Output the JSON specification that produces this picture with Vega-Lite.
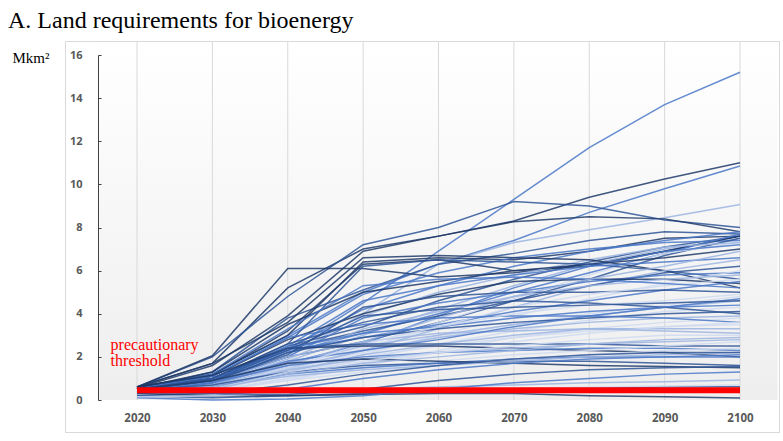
{
  "$schema": "https://vega.github.io/schema/vega-lite/v6.json",
  "width": 714,
  "height": 391,
  "autosize": "none",
  "padding": {"left": 65, "top": 41, "right": 4, "bottom": 9},
  "background": "#ffffff",
  "config": {
    "view": {"stroke": "#d9d9d9", "strokeWidth": 1, "fill": "#ffffff"}
  },
  "title": {
    "text": "A. Land requirements for bioenergy",
    "anchor": "start",
    "frame": "group",
    "font": "Liberation Serif",
    "fontSize": 24,
    "fontWeight": "normal",
    "color": "#000000",
    "baseline": "alphabetic",
    "dx": -57,
    "dy": 25,
    "offset": 14
  },
  "datasets": {
    "runs": [
      {"s":1,"g":"m","t":2020,"v":0.5},{"s":1,"g":"m","t":2030,"v":1.0},{"s":1,"g":"m","t":2040,"v":2.3},{"s":1,"g":"m","t":2050,"v":4.5},{"s":1,"g":"m","t":2060,"v":6.9},{"s":1,"g":"m","t":2070,"v":9.3},{"s":1,"g":"m","t":2080,"v":11.7},{"s":1,"g":"m","t":2090,"v":13.7},{"s":1,"g":"m","t":2100,"v":15.2},
      {"s":2,"g":"n","t":2020,"v":0.6},{"s":2,"g":"n","t":2030,"v":1.7},{"s":2,"g":"n","t":2040,"v":5.2},{"s":2,"g":"n","t":2050,"v":7.0},{"s":2,"g":"n","t":2060,"v":7.6},{"s":2,"g":"n","t":2070,"v":8.3},{"s":2,"g":"n","t":2080,"v":9.4},{"s":2,"g":"n","t":2090,"v":10.25},{"s":2,"g":"n","t":2100,"v":11.0},
      {"s":3,"g":"m","t":2020,"v":0.5},{"s":3,"g":"m","t":2030,"v":1.2},{"s":3,"g":"m","t":2040,"v":3.0},{"s":3,"g":"m","t":2050,"v":5.0},{"s":3,"g":"m","t":2060,"v":6.3},{"s":3,"g":"m","t":2070,"v":7.4},{"s":3,"g":"m","t":2080,"v":8.7},{"s":3,"g":"m","t":2090,"v":9.8},{"s":3,"g":"m","t":2100,"v":10.85},
      {"s":4,"g":"d","t":2020,"v":0.6},{"s":4,"g":"d","t":2030,"v":2.0},{"s":4,"g":"d","t":2040,"v":4.8},{"s":4,"g":"d","t":2050,"v":7.2},{"s":4,"g":"d","t":2060,"v":8.0},{"s":4,"g":"d","t":2070,"v":9.2},{"s":4,"g":"d","t":2080,"v":9.0},{"s":4,"g":"d","t":2090,"v":8.35},{"s":4,"g":"d","t":2100,"v":8.0},
      {"s":5,"g":"l","t":2020,"v":0.4},{"s":5,"g":"l","t":2030,"v":0.9},{"s":5,"g":"l","t":2040,"v":2.0},{"s":5,"g":"l","t":2050,"v":4.0},{"s":5,"g":"l","t":2060,"v":6.3},{"s":5,"g":"l","t":2070,"v":7.3},{"s":5,"g":"l","t":2080,"v":7.9},{"s":5,"g":"l","t":2090,"v":8.45},{"s":5,"g":"l","t":2100,"v":9.07},
      {"s":6,"g":"n","t":2020,"v":0.6},{"s":6,"g":"n","t":2030,"v":2.05},{"s":6,"g":"n","t":2040,"v":6.1},{"s":6,"g":"n","t":2050,"v":6.1},{"s":6,"g":"n","t":2060,"v":5.7},{"s":6,"g":"n","t":2070,"v":5.9},{"s":6,"g":"n","t":2080,"v":6.3},{"s":6,"g":"n","t":2090,"v":6.9},{"s":6,"g":"n","t":2100,"v":7.6},
      {"s":7,"g":"n","t":2020,"v":0.55},{"s":7,"g":"n","t":2030,"v":1.6},{"s":7,"g":"n","t":2040,"v":3.9},{"s":7,"g":"n","t":2050,"v":6.9},{"s":7,"g":"n","t":2060,"v":7.6},{"s":7,"g":"n","t":2070,"v":8.27},{"s":7,"g":"n","t":2080,"v":8.5},{"s":7,"g":"n","t":2090,"v":8.4},{"s":7,"g":"n","t":2100,"v":7.8},
      {"s":8,"g":"d","t":2020,"v":0.5},{"s":8,"g":"d","t":2030,"v":1.3},{"s":8,"g":"d","t":2040,"v":3.8},{"s":8,"g":"d","t":2050,"v":5.1},{"s":8,"g":"d","t":2060,"v":6.3},{"s":8,"g":"d","t":2070,"v":6.8},{"s":8,"g":"d","t":2080,"v":7.4},{"s":8,"g":"d","t":2090,"v":7.8},{"s":8,"g":"d","t":2100,"v":7.7},
      {"s":9,"g":"n","t":2020,"v":0.6},{"s":9,"g":"n","t":2030,"v":1.2},{"s":9,"g":"n","t":2040,"v":3.0},{"s":9,"g":"n","t":2050,"v":6.4},{"s":9,"g":"n","t":2060,"v":6.6},{"s":9,"g":"n","t":2070,"v":6.5},{"s":9,"g":"n","t":2080,"v":6.9},{"s":9,"g":"n","t":2090,"v":7.5},{"s":9,"g":"n","t":2100,"v":7.6},
      {"s":10,"g":"m","t":2020,"v":0.4},{"s":10,"g":"m","t":2030,"v":0.8},{"s":10,"g":"m","t":2040,"v":2.4},{"s":10,"g":"m","t":2050,"v":4.2},{"s":10,"g":"m","t":2060,"v":5.3},{"s":10,"g":"m","t":2070,"v":6.2},{"s":10,"g":"m","t":2080,"v":6.9},{"s":10,"g":"m","t":2090,"v":7.4},{"s":10,"g":"m","t":2100,"v":7.8},
      {"s":11,"g":"d","t":2020,"v":0.5},{"s":11,"g":"d","t":2030,"v":1.0},{"s":11,"g":"d","t":2040,"v":2.5},{"s":11,"g":"d","t":2050,"v":3.4},{"s":11,"g":"d","t":2060,"v":4.6},{"s":11,"g":"d","t":2070,"v":5.6},{"s":11,"g":"d","t":2080,"v":6.4},{"s":11,"g":"d","t":2090,"v":7.1},{"s":11,"g":"d","t":2100,"v":7.6},
      {"s":12,"g":"l","t":2020,"v":0.3},{"s":12,"g":"l","t":2030,"v":0.7},{"s":12,"g":"l","t":2040,"v":1.8},{"s":12,"g":"l","t":2050,"v":3.0},{"s":12,"g":"l","t":2060,"v":4.2},{"s":12,"g":"l","t":2070,"v":5.3},{"s":12,"g":"l","t":2080,"v":6.3},{"s":12,"g":"l","t":2090,"v":7.0},{"s":12,"g":"l","t":2100,"v":7.5},
      {"s":13,"g":"m","t":2020,"v":0.5},{"s":13,"g":"m","t":2030,"v":1.1},{"s":13,"g":"m","t":2040,"v":2.9},{"s":13,"g":"m","t":2050,"v":4.9},{"s":13,"g":"m","t":2060,"v":5.9},{"s":13,"g":"m","t":2070,"v":6.6},{"s":13,"g":"m","t":2080,"v":7.0},{"s":13,"g":"m","t":2090,"v":7.3},{"s":13,"g":"m","t":2100,"v":7.4},
      {"s":14,"g":"n","t":2020,"v":0.6},{"s":14,"g":"n","t":2030,"v":1.15},{"s":14,"g":"n","t":2040,"v":3.2},{"s":14,"g":"n","t":2050,"v":6.3},{"s":14,"g":"n","t":2060,"v":6.5},{"s":14,"g":"n","t":2070,"v":6.0},{"s":14,"g":"n","t":2080,"v":6.2},{"s":14,"g":"n","t":2090,"v":6.9},{"s":14,"g":"n","t":2100,"v":7.6},
      {"s":15,"g":"m","t":2020,"v":0.4},{"s":15,"g":"m","t":2030,"v":0.9},{"s":15,"g":"m","t":2040,"v":2.2},{"s":15,"g":"m","t":2050,"v":3.1},{"s":15,"g":"m","t":2060,"v":4.0},{"s":15,"g":"m","t":2070,"v":5.0},{"s":15,"g":"m","t":2080,"v":5.9},{"s":15,"g":"m","t":2090,"v":6.8},{"s":15,"g":"m","t":2100,"v":7.7},
      {"s":16,"g":"d","t":2020,"v":0.5},{"s":16,"g":"d","t":2030,"v":0.9},{"s":16,"g":"d","t":2040,"v":2.0},{"s":16,"g":"d","t":2050,"v":2.7},{"s":16,"g":"d","t":2060,"v":3.6},{"s":16,"g":"d","t":2070,"v":4.6},{"s":16,"g":"d","t":2080,"v":5.6},{"s":16,"g":"d","t":2090,"v":6.7},{"s":16,"g":"d","t":2100,"v":7.5},
      {"s":17,"g":"x","t":2020,"v":0.3},{"s":17,"g":"x","t":2030,"v":0.6},{"s":17,"g":"x","t":2040,"v":1.5},{"s":17,"g":"x","t":2050,"v":2.5},{"s":17,"g":"x","t":2060,"v":3.6},{"s":17,"g":"x","t":2070,"v":4.7},{"s":17,"g":"x","t":2080,"v":5.8},{"s":17,"g":"x","t":2090,"v":6.8},{"s":17,"g":"x","t":2100,"v":7.3},
      {"s":18,"g":"l","t":2020,"v":0.4},{"s":18,"g":"l","t":2030,"v":0.8},{"s":18,"g":"l","t":2040,"v":2.3},{"s":18,"g":"l","t":2050,"v":3.9},{"s":18,"g":"l","t":2060,"v":5.0},{"s":18,"g":"l","t":2070,"v":5.8},{"s":18,"g":"l","t":2080,"v":6.5},{"s":18,"g":"l","t":2090,"v":7.1},{"s":18,"g":"l","t":2100,"v":7.3},
      {"s":19,"g":"n","t":2020,"v":0.55},{"s":19,"g":"n","t":2030,"v":1.3},{"s":19,"g":"n","t":2040,"v":3.5},{"s":19,"g":"n","t":2050,"v":5.0},{"s":19,"g":"n","t":2060,"v":5.5},{"s":19,"g":"n","t":2070,"v":6.0},{"s":19,"g":"n","t":2080,"v":6.3},{"s":19,"g":"n","t":2090,"v":6.6},{"s":19,"g":"n","t":2100,"v":7.0},
      {"s":20,"g":"m","t":2020,"v":0.4},{"s":20,"g":"m","t":2030,"v":0.7},{"s":20,"g":"m","t":2040,"v":1.7},{"s":20,"g":"m","t":2050,"v":2.6},{"s":20,"g":"m","t":2060,"v":3.9},{"s":20,"g":"m","t":2070,"v":5.2},{"s":20,"g":"m","t":2080,"v":6.2},{"s":20,"g":"m","t":2090,"v":6.9},{"s":20,"g":"m","t":2100,"v":7.2},
      {"s":21,"g":"d","t":2020,"v":0.5},{"s":21,"g":"d","t":2030,"v":1.0},{"s":21,"g":"d","t":2040,"v":2.6},{"s":21,"g":"d","t":2050,"v":6.2},{"s":21,"g":"d","t":2060,"v":6.5},{"s":21,"g":"d","t":2070,"v":6.4},{"s":21,"g":"d","t":2080,"v":6.3},{"s":21,"g":"d","t":2090,"v":6.0},{"s":21,"g":"d","t":2100,"v":5.6},
      {"s":22,"g":"n","t":2020,"v":0.6},{"s":22,"g":"n","t":2030,"v":1.7},{"s":22,"g":"n","t":2040,"v":3.6},{"s":22,"g":"n","t":2050,"v":6.6},{"s":22,"g":"n","t":2060,"v":6.7},{"s":22,"g":"n","t":2070,"v":6.6},{"s":22,"g":"n","t":2080,"v":6.5},{"s":22,"g":"n","t":2090,"v":6.0},{"s":22,"g":"n","t":2100,"v":5.2},
      {"s":23,"g":"m","t":2020,"v":0.4},{"s":23,"g":"m","t":2030,"v":0.9},{"s":23,"g":"m","t":2040,"v":2.5},{"s":23,"g":"m","t":2050,"v":4.6},{"s":23,"g":"m","t":2060,"v":5.3},{"s":23,"g":"m","t":2070,"v":5.8},{"s":23,"g":"m","t":2080,"v":6.2},{"s":23,"g":"m","t":2090,"v":6.4},{"s":23,"g":"m","t":2100,"v":6.6},
      {"s":24,"g":"l","t":2020,"v":0.3},{"s":24,"g":"l","t":2030,"v":0.6},{"s":24,"g":"l","t":2040,"v":1.4},{"s":24,"g":"l","t":2050,"v":2.3},{"s":24,"g":"l","t":2060,"v":3.3},{"s":24,"g":"l","t":2070,"v":4.3},{"s":24,"g":"l","t":2080,"v":5.3},{"s":24,"g":"l","t":2090,"v":6.0},{"s":24,"g":"l","t":2100,"v":6.5},
      {"s":25,"g":"d","t":2020,"v":0.5},{"s":25,"g":"d","t":2030,"v":1.0},{"s":25,"g":"d","t":2040,"v":2.4},{"s":25,"g":"d","t":2050,"v":3.2},{"s":25,"g":"d","t":2060,"v":3.9},{"s":25,"g":"d","t":2070,"v":4.6},{"s":25,"g":"d","t":2080,"v":5.3},{"s":25,"g":"d","t":2090,"v":5.9},{"s":25,"g":"d","t":2100,"v":6.2},
      {"s":26,"g":"m","t":2020,"v":0.4},{"s":26,"g":"m","t":2030,"v":0.8},{"s":26,"g":"m","t":2040,"v":2.0},{"s":26,"g":"m","t":2050,"v":3.8},{"s":26,"g":"m","t":2060,"v":4.5},{"s":26,"g":"m","t":2070,"v":5.0},{"s":26,"g":"m","t":2080,"v":5.5},{"s":26,"g":"m","t":2090,"v":5.8},{"s":26,"g":"m","t":2100,"v":5.9},
      {"s":27,"g":"x","t":2020,"v":0.3},{"s":27,"g":"x","t":2030,"v":0.5},{"s":27,"g":"x","t":2040,"v":1.2},{"s":27,"g":"x","t":2050,"v":2.1},{"s":27,"g":"x","t":2060,"v":3.0},{"s":27,"g":"x","t":2070,"v":3.9},{"s":27,"g":"x","t":2080,"v":4.7},{"s":27,"g":"x","t":2090,"v":5.4},{"s":27,"g":"x","t":2100,"v":6.0},
      {"s":28,"g":"n","t":2020,"v":0.55},{"s":28,"g":"n","t":2030,"v":1.1},{"s":28,"g":"n","t":2040,"v":2.8},{"s":28,"g":"n","t":2050,"v":4.0},{"s":28,"g":"n","t":2060,"v":4.9},{"s":28,"g":"n","t":2070,"v":5.5},{"s":28,"g":"n","t":2080,"v":5.6},{"s":28,"g":"n","t":2090,"v":5.6},{"s":28,"g":"n","t":2100,"v":5.4},
      {"s":29,"g":"l","t":2020,"v":0.4},{"s":29,"g":"l","t":2030,"v":0.7},{"s":29,"g":"l","t":2040,"v":1.9},{"s":29,"g":"l","t":2050,"v":3.3},{"s":29,"g":"l","t":2060,"v":4.1},{"s":29,"g":"l","t":2070,"v":4.8},{"s":29,"g":"l","t":2080,"v":5.3},{"s":29,"g":"l","t":2090,"v":5.6},{"s":29,"g":"l","t":2100,"v":5.8},
      {"s":30,"g":"m","t":2020,"v":0.5},{"s":30,"g":"m","t":2030,"v":1.0},{"s":30,"g":"m","t":2040,"v":2.3},{"s":30,"g":"m","t":2050,"v":2.9},{"s":30,"g":"m","t":2060,"v":3.5},{"s":30,"g":"m","t":2070,"v":4.1},{"s":30,"g":"m","t":2080,"v":4.6},{"s":30,"g":"m","t":2090,"v":5.1},{"s":30,"g":"m","t":2100,"v":5.5},
      {"s":31,"g":"d","t":2020,"v":0.4},{"s":31,"g":"d","t":2030,"v":0.9},{"s":31,"g":"d","t":2040,"v":2.1},{"s":31,"g":"d","t":2050,"v":4.3},{"s":31,"g":"d","t":2060,"v":4.8},{"s":31,"g":"d","t":2070,"v":5.0},{"s":31,"g":"d","t":2080,"v":5.0},{"s":31,"g":"d","t":2090,"v":5.1},{"s":31,"g":"d","t":2100,"v":5.0},
      {"s":32,"g":"x","t":2020,"v":0.2},{"s":32,"g":"x","t":2030,"v":0.5},{"s":32,"g":"x","t":2040,"v":1.3},{"s":32,"g":"x","t":2050,"v":2.4},{"s":32,"g":"x","t":2060,"v":3.4},{"s":32,"g":"x","t":2070,"v":4.3},{"s":32,"g":"x","t":2080,"v":4.9},{"s":32,"g":"x","t":2090,"v":5.3},{"s":32,"g":"x","t":2100,"v":5.6},
      {"s":33,"g":"m","t":2020,"v":0.5},{"s":33,"g":"m","t":2030,"v":1.2},{"s":33,"g":"m","t":2040,"v":3.3},{"s":33,"g":"m","t":2050,"v":5.3},{"s":33,"g":"m","t":2060,"v":5.6},{"s":33,"g":"m","t":2070,"v":5.7},{"s":33,"g":"m","t":2080,"v":5.6},{"s":33,"g":"m","t":2090,"v":5.4},{"s":33,"g":"m","t":2100,"v":5.2},
      {"s":34,"g":"l","t":2020,"v":0.3},{"s":34,"g":"l","t":2030,"v":0.6},{"s":34,"g":"l","t":2040,"v":1.6},{"s":34,"g":"l","t":2050,"v":2.7},{"s":34,"g":"l","t":2060,"v":3.8},{"s":34,"g":"l","t":2070,"v":4.8},{"s":34,"g":"l","t":2080,"v":5.6},{"s":34,"g":"l","t":2090,"v":6.2},{"s":34,"g":"l","t":2100,"v":6.9},
      {"s":35,"g":"x","t":2020,"v":0.3},{"s":35,"g":"x","t":2030,"v":0.6},{"s":35,"g":"x","t":2040,"v":1.4},{"s":35,"g":"x","t":2050,"v":2.2},{"s":35,"g":"x","t":2060,"v":2.9},{"s":35,"g":"x","t":2070,"v":3.5},{"s":35,"g":"x","t":2080,"v":4.0},{"s":35,"g":"x","t":2090,"v":4.4},{"s":35,"g":"x","t":2100,"v":4.8},
      {"s":36,"g":"l","t":2020,"v":0.4},{"s":36,"g":"l","t":2030,"v":0.7},{"s":36,"g":"l","t":2040,"v":1.7},{"s":36,"g":"l","t":2050,"v":2.5},{"s":36,"g":"l","t":2060,"v":3.0},{"s":36,"g":"l","t":2070,"v":3.5},{"s":36,"g":"l","t":2080,"v":3.9},{"s":36,"g":"l","t":2090,"v":4.3},{"s":36,"g":"l","t":2100,"v":4.6},
      {"s":37,"g":"m","t":2020,"v":0.5},{"s":37,"g":"m","t":2030,"v":0.9},{"s":37,"g":"m","t":2040,"v":2.4},{"s":37,"g":"m","t":2050,"v":3.1},{"s":37,"g":"m","t":2060,"v":3.4},{"s":37,"g":"m","t":2070,"v":3.8},{"s":37,"g":"m","t":2080,"v":4.1},{"s":37,"g":"m","t":2090,"v":4.3},{"s":37,"g":"m","t":2100,"v":4.4},
      {"s":38,"g":"x","t":2020,"v":0.2},{"s":38,"g":"x","t":2030,"v":0.5},{"s":38,"g":"x","t":2040,"v":1.1},{"s":38,"g":"x","t":2050,"v":1.9},{"s":38,"g":"x","t":2060,"v":2.6},{"s":38,"g":"x","t":2070,"v":3.2},{"s":38,"g":"x","t":2080,"v":3.7},{"s":38,"g":"x","t":2090,"v":4.1},{"s":38,"g":"x","t":2100,"v":4.3},
      {"s":39,"g":"d","t":2020,"v":0.4},{"s":39,"g":"d","t":2030,"v":0.8},{"s":39,"g":"d","t":2040,"v":2.2},{"s":39,"g":"d","t":2050,"v":2.9},{"s":39,"g":"d","t":2060,"v":3.3},{"s":39,"g":"d","t":2070,"v":3.6},{"s":39,"g":"d","t":2080,"v":3.8},{"s":39,"g":"d","t":2090,"v":4.0},{"s":39,"g":"d","t":2100,"v":4.1},
      {"s":40,"g":"l","t":2020,"v":0.3},{"s":40,"g":"l","t":2030,"v":0.6},{"s":40,"g":"l","t":2040,"v":1.5},{"s":40,"g":"l","t":2050,"v":2.3},{"s":40,"g":"l","t":2060,"v":2.9},{"s":40,"g":"l","t":2070,"v":3.3},{"s":40,"g":"l","t":2080,"v":3.6},{"s":40,"g":"l","t":2090,"v":3.8},{"s":40,"g":"l","t":2100,"v":3.9},
      {"s":41,"g":"x","t":2020,"v":0.2},{"s":41,"g":"x","t":2030,"v":0.4},{"s":41,"g":"x","t":2040,"v":1.0},{"s":41,"g":"x","t":2050,"v":1.7},{"s":41,"g":"x","t":2060,"v":2.3},{"s":41,"g":"x","t":2070,"v":2.9},{"s":41,"g":"x","t":2080,"v":3.3},{"s":41,"g":"x","t":2090,"v":3.6},{"s":41,"g":"x","t":2100,"v":3.8},
      {"s":42,"g":"m","t":2020,"v":0.5},{"s":42,"g":"m","t":2030,"v":1.1},{"s":42,"g":"m","t":2040,"v":2.9},{"s":42,"g":"m","t":2050,"v":3.5},{"s":42,"g":"m","t":2060,"v":3.8},{"s":42,"g":"m","t":2070,"v":3.9},{"s":42,"g":"m","t":2080,"v":3.9},{"s":42,"g":"m","t":2090,"v":3.8},{"s":42,"g":"m","t":2100,"v":3.6},
      {"s":43,"g":"x","t":2020,"v":0.3},{"s":43,"g":"x","t":2030,"v":0.5},{"s":43,"g":"x","t":2040,"v":1.2},{"s":43,"g":"x","t":2050,"v":2.0},{"s":43,"g":"x","t":2060,"v":2.5},{"s":43,"g":"x","t":2070,"v":2.9},{"s":43,"g":"x","t":2080,"v":3.2},{"s":43,"g":"x","t":2090,"v":3.4},{"s":43,"g":"x","t":2100,"v":3.5},
      {"s":44,"g":"l","t":2020,"v":0.4},{"s":44,"g":"l","t":2030,"v":0.8},{"s":44,"g":"l","t":2040,"v":2.0},{"s":44,"g":"l","t":2050,"v":2.7},{"s":44,"g":"l","t":2060,"v":3.1},{"s":44,"g":"l","t":2070,"v":3.2},{"s":44,"g":"l","t":2080,"v":3.3},{"s":44,"g":"l","t":2090,"v":3.3},{"s":44,"g":"l","t":2100,"v":3.3},
      {"s":45,"g":"d","t":2020,"v":0.5},{"s":45,"g":"d","t":2030,"v":1.0},{"s":45,"g":"d","t":2040,"v":2.6},{"s":45,"g":"d","t":2050,"v":3.6},{"s":45,"g":"d","t":2060,"v":4.3},{"s":45,"g":"d","t":2070,"v":4.6},{"s":45,"g":"d","t":2080,"v":4.5},{"s":45,"g":"d","t":2090,"v":4.3},{"s":45,"g":"d","t":2100,"v":4.0},
      {"s":46,"g":"x","t":2020,"v":0.2},{"s":46,"g":"x","t":2030,"v":0.4},{"s":46,"g":"x","t":2040,"v":0.9},{"s":46,"g":"x","t":2050,"v":1.6},{"s":46,"g":"x","t":2060,"v":2.2},{"s":46,"g":"x","t":2070,"v":2.7},{"s":46,"g":"x","t":2080,"v":3.1},{"s":46,"g":"x","t":2090,"v":3.4},{"s":46,"g":"x","t":2100,"v":3.6},
      {"s":47,"g":"m","t":2020,"v":0.4},{"s":47,"g":"m","t":2030,"v":0.8},{"s":47,"g":"m","t":2040,"v":1.8},{"s":47,"g":"m","t":2050,"v":2.3},{"s":47,"g":"m","t":2060,"v":2.8},{"s":47,"g":"m","t":2070,"v":3.4},{"s":47,"g":"m","t":2080,"v":3.9},{"s":47,"g":"m","t":2090,"v":4.3},{"s":47,"g":"m","t":2100,"v":4.7},
      {"s":48,"g":"l","t":2020,"v":0.3},{"s":48,"g":"l","t":2030,"v":0.6},{"s":48,"g":"l","t":2040,"v":1.3},{"s":48,"g":"l","t":2050,"v":2.1},{"s":48,"g":"l","t":2060,"v":2.6},{"s":48,"g":"l","t":2070,"v":3.0},{"s":48,"g":"l","t":2080,"v":3.3},{"s":48,"g":"l","t":2090,"v":3.2},{"s":48,"g":"l","t":2100,"v":3.1},
      {"s":49,"g":"x","t":2020,"v":0.35},{"s":49,"g":"x","t":2030,"v":0.6},{"s":49,"g":"x","t":2040,"v":1.5},{"s":49,"g":"x","t":2050,"v":2.6},{"s":49,"g":"x","t":2060,"v":3.4},{"s":49,"g":"x","t":2070,"v":4.0},{"s":49,"g":"x","t":2080,"v":4.4},{"s":49,"g":"x","t":2090,"v":4.6},{"s":49,"g":"x","t":2100,"v":4.9},
      {"s":50,"g":"d","t":2020,"v":0.45},{"s":50,"g":"d","t":2030,"v":0.9},{"s":50,"g":"d","t":2040,"v":2.3},{"s":50,"g":"d","t":2050,"v":3.9},{"s":50,"g":"d","t":2060,"v":4.2},{"s":50,"g":"d","t":2070,"v":4.3},{"s":50,"g":"d","t":2080,"v":4.4},{"s":50,"g":"d","t":2090,"v":4.5},{"s":50,"g":"d","t":2100,"v":4.6},
      {"s":51,"g":"n","t":2020,"v":0.6},{"s":51,"g":"n","t":2030,"v":1.15},{"s":51,"g":"n","t":2040,"v":2.4},{"s":51,"g":"n","t":2050,"v":2.5},{"s":51,"g":"n","t":2060,"v":2.5},{"s":51,"g":"n","t":2070,"v":2.4},{"s":51,"g":"n","t":2080,"v":2.3},{"s":51,"g":"n","t":2090,"v":2.2},{"s":51,"g":"n","t":2100,"v":2.0},
      {"s":52,"g":"d","t":2020,"v":0.5},{"s":52,"g":"d","t":2030,"v":1.0},{"s":52,"g":"d","t":2040,"v":2.4},{"s":52,"g":"d","t":2050,"v":2.6},{"s":52,"g":"d","t":2060,"v":2.6},{"s":52,"g":"d","t":2070,"v":2.6},{"s":52,"g":"d","t":2080,"v":2.6},{"s":52,"g":"d","t":2090,"v":2.5},{"s":52,"g":"d","t":2100,"v":2.5},
      {"s":53,"g":"m","t":2020,"v":0.4},{"s":53,"g":"m","t":2030,"v":0.8},{"s":53,"g":"m","t":2040,"v":1.6},{"s":53,"g":"m","t":2050,"v":2.0},{"s":53,"g":"m","t":2060,"v":2.2},{"s":53,"g":"m","t":2070,"v":2.3},{"s":53,"g":"m","t":2080,"v":2.4},{"s":53,"g":"m","t":2090,"v":2.4},{"s":53,"g":"m","t":2100,"v":2.3},
      {"s":54,"g":"l","t":2020,"v":0.3},{"s":54,"g":"l","t":2030,"v":0.6},{"s":54,"g":"l","t":2040,"v":1.4},{"s":54,"g":"l","t":2050,"v":1.9},{"s":54,"g":"l","t":2060,"v":2.2},{"s":54,"g":"l","t":2070,"v":2.4},{"s":54,"g":"l","t":2080,"v":2.6},{"s":54,"g":"l","t":2090,"v":2.7},{"s":54,"g":"l","t":2100,"v":2.8},
      {"s":55,"g":"x","t":2020,"v":0.2},{"s":55,"g":"x","t":2030,"v":0.4},{"s":55,"g":"x","t":2040,"v":1.0},{"s":55,"g":"x","t":2050,"v":1.5},{"s":55,"g":"x","t":2060,"v":1.8},{"s":55,"g":"x","t":2070,"v":2.1},{"s":55,"g":"x","t":2080,"v":2.3},{"s":55,"g":"x","t":2090,"v":2.5},{"s":55,"g":"x","t":2100,"v":2.7},
      {"s":56,"g":"d","t":2020,"v":0.45},{"s":56,"g":"d","t":2030,"v":0.7},{"s":56,"g":"d","t":2040,"v":1.3},{"s":56,"g":"d","t":2050,"v":1.6},{"s":56,"g":"d","t":2060,"v":1.7},{"s":56,"g":"d","t":2070,"v":1.8},{"s":56,"g":"d","t":2080,"v":1.8},{"s":56,"g":"d","t":2090,"v":1.7},{"s":56,"g":"d","t":2100,"v":1.6},
      {"s":57,"g":"m","t":2020,"v":0.4},{"s":57,"g":"m","t":2030,"v":0.6},{"s":57,"g":"m","t":2040,"v":1.2},{"s":57,"g":"m","t":2050,"v":1.5},{"s":57,"g":"m","t":2060,"v":1.7},{"s":57,"g":"m","t":2070,"v":1.9},{"s":57,"g":"m","t":2080,"v":2.0},{"s":57,"g":"m","t":2090,"v":2.0},{"s":57,"g":"m","t":2100,"v":2.0},
      {"s":58,"g":"x","t":2020,"v":0.25},{"s":58,"g":"x","t":2030,"v":0.5},{"s":58,"g":"x","t":2040,"v":0.9},{"s":58,"g":"x","t":2050,"v":1.3},{"s":58,"g":"x","t":2060,"v":1.6},{"s":58,"g":"x","t":2070,"v":1.9},{"s":58,"g":"x","t":2080,"v":2.1},{"s":58,"g":"x","t":2090,"v":2.3},{"s":58,"g":"x","t":2100,"v":2.4},
      {"s":59,"g":"n","t":2020,"v":0.5},{"s":59,"g":"n","t":2030,"v":0.9},{"s":59,"g":"n","t":2040,"v":1.7},{"s":59,"g":"n","t":2050,"v":1.9},{"s":59,"g":"n","t":2060,"v":1.8},{"s":59,"g":"n","t":2070,"v":1.7},{"s":59,"g":"n","t":2080,"v":1.6},{"s":59,"g":"n","t":2090,"v":1.55},{"s":59,"g":"n","t":2100,"v":1.5},
      {"s":60,"g":"l","t":2020,"v":0.35},{"s":60,"g":"l","t":2030,"v":0.6},{"s":60,"g":"l","t":2040,"v":1.1},{"s":60,"g":"l","t":2050,"v":1.4},{"s":60,"g":"l","t":2060,"v":1.6},{"s":60,"g":"l","t":2070,"v":1.8},{"s":60,"g":"l","t":2080,"v":2.0},{"s":60,"g":"l","t":2090,"v":2.1},{"s":60,"g":"l","t":2100,"v":2.2},
      {"s":61,"g":"d","t":2020,"v":0.2},{"s":61,"g":"d","t":2030,"v":0.3},{"s":61,"g":"d","t":2040,"v":0.7},{"s":61,"g":"d","t":2050,"v":1.2},{"s":61,"g":"d","t":2060,"v":1.6},{"s":61,"g":"d","t":2070,"v":1.9},{"s":61,"g":"d","t":2080,"v":2.1},{"s":61,"g":"d","t":2090,"v":2.2},{"s":61,"g":"d","t":2100,"v":2.2},
      {"s":62,"g":"x","t":2020,"v":0.3},{"s":62,"g":"x","t":2030,"v":0.5},{"s":62,"g":"x","t":2040,"v":1.3},{"s":62,"g":"x","t":2050,"v":1.8},{"s":62,"g":"x","t":2060,"v":2.2},{"s":62,"g":"x","t":2070,"v":2.5},{"s":62,"g":"x","t":2080,"v":2.8},{"s":62,"g":"x","t":2090,"v":3.0},{"s":62,"g":"x","t":2100,"v":3.0},
      {"s":63,"g":"m","t":2020,"v":0.15},{"s":63,"g":"m","t":2030,"v":0.2},{"s":63,"g":"m","t":2040,"v":0.5},{"s":63,"g":"m","t":2050,"v":1.0},{"s":63,"g":"m","t":2060,"v":1.4},{"s":63,"g":"m","t":2070,"v":1.7},{"s":63,"g":"m","t":2080,"v":1.9},{"s":63,"g":"m","t":2090,"v":2.0},{"s":63,"g":"m","t":2100,"v":2.1},
      {"s":64,"g":"l","t":2020,"v":0.3},{"s":64,"g":"l","t":2030,"v":0.5},{"s":64,"g":"l","t":2040,"v":1.2},{"s":64,"g":"l","t":2050,"v":1.7},{"s":64,"g":"l","t":2060,"v":2.0},{"s":64,"g":"l","t":2070,"v":2.3},{"s":64,"g":"l","t":2080,"v":2.6},{"s":64,"g":"l","t":2090,"v":2.8},{"s":64,"g":"l","t":2100,"v":2.9},
      {"s":65,"g":"l","t":2020,"v":0.3},{"s":65,"g":"l","t":2030,"v":0.3},{"s":65,"g":"l","t":2040,"v":0.4},{"s":65,"g":"l","t":2050,"v":0.5},{"s":65,"g":"l","t":2060,"v":0.6},{"s":65,"g":"l","t":2070,"v":0.7},{"s":65,"g":"l","t":2080,"v":0.8},{"s":65,"g":"l","t":2090,"v":0.85},{"s":65,"g":"l","t":2100,"v":0.93},
      {"s":66,"g":"d","t":2020,"v":0.2},{"s":66,"g":"d","t":2030,"v":0.1},{"s":66,"g":"d","t":2040,"v":0.2},{"s":66,"g":"d","t":2050,"v":0.3},{"s":66,"g":"d","t":2060,"v":0.4},{"s":66,"g":"d","t":2070,"v":0.5},{"s":66,"g":"d","t":2080,"v":0.55},{"s":66,"g":"d","t":2090,"v":0.6},{"s":66,"g":"d","t":2100,"v":0.62},
      {"s":67,"g":"n","t":2020,"v":0.3},{"s":67,"g":"n","t":2030,"v":0.2},{"s":67,"g":"n","t":2040,"v":0.2},{"s":67,"g":"n","t":2050,"v":0.25},{"s":67,"g":"n","t":2060,"v":0.3},{"s":67,"g":"n","t":2070,"v":0.3},{"s":67,"g":"n","t":2080,"v":0.2},{"s":67,"g":"n","t":2090,"v":0.15},{"s":67,"g":"n","t":2100,"v":0.09},
      {"s":68,"g":"m","t":2020,"v":0.1},{"s":68,"g":"m","t":2030,"v":0.0},{"s":68,"g":"m","t":2040,"v":0.05},{"s":68,"g":"m","t":2050,"v":0.2},{"s":68,"g":"m","t":2060,"v":0.5},{"s":68,"g":"m","t":2070,"v":0.8},{"s":68,"g":"m","t":2080,"v":1.0},{"s":68,"g":"m","t":2090,"v":1.2},{"s":68,"g":"m","t":2100,"v":1.3},
      {"s":69,"g":"x","t":2020,"v":0.15},{"s":69,"g":"x","t":2030,"v":0.2},{"s":69,"g":"x","t":2040,"v":0.3},{"s":69,"g":"x","t":2050,"v":0.4},{"s":69,"g":"x","t":2060,"v":0.5},{"s":69,"g":"x","t":2070,"v":0.55},{"s":69,"g":"x","t":2080,"v":0.6},{"s":69,"g":"x","t":2090,"v":0.65},{"s":69,"g":"x","t":2100,"v":0.7},
      {"s":70,"g":"d","t":2020,"v":0.35},{"s":70,"g":"d","t":2030,"v":0.3},{"s":70,"g":"d","t":2040,"v":0.25},{"s":70,"g":"d","t":2050,"v":0.5},{"s":70,"g":"d","t":2060,"v":0.9},{"s":70,"g":"d","t":2070,"v":1.2},{"s":70,"g":"d","t":2080,"v":1.4},{"s":70,"g":"d","t":2090,"v":1.5},{"s":70,"g":"d","t":2100,"v":1.55}
    ]
  },
  "encoding": {
    "x": {
      "type": "quantitative",
      "scale": {"domain": [2020, 2100], "range": [72, 675], "nice": false, "zero": false}
    },
    "y": {
      "type": "quantitative",
      "scale": {"domain": [0, 16], "range": [359, 14], "nice": false}
    }
  },
  "layer": [
    {
      "data": {"values": [{"k": "plot"}]},
      "mark": {
        "type": "rect",
        "color": {
          "gradient": "linear", "x1": 0, "y1": 0, "x2": 0, "y2": 1,
          "stops": [{"offset": 0, "color": "#ffffff"}, {"offset": 1, "color": "#eeeeee"}]
        }
      },
      "encoding": {
        "x": {"datum": 2015, "type": "quantitative"},
        "x2": {"datum": 2105},
        "y": {"datum": 0, "type": "quantitative"},
        "y2": {"datum": 16.6}
      }
    },
    {
      "data": {"values": [{"t": 2020}, {"t": 2030}, {"t": 2040}, {"t": 2050}, {"t": 2060}, {"t": 2070}, {"t": 2080}, {"t": 2090}, {"t": 2100}]},
      "mark": {"type": "rule", "color": "#d9d9d9", "strokeWidth": 1},
      "encoding": {
        "x": {"field": "t", "type": "quantitative"},
        "y": {"datum": 0, "type": "quantitative"},
        "y2": {"datum": 16.6}
      }
    },
    {
      "data": {"name": "runs"},
      "mark": {"type": "line", "strokeWidth": 1.5, "opacity": 0.85},
      "encoding": {
        "x": {
          "field": "t",
          "type": "quantitative",
          "axis": {
            "values": [2020, 2030, 2040, 2050, 2060, 2070, 2080, 2090, 2100],
            "format": "d",
            "title": null,
            "domain": false,
            "ticks": false,
            "grid": false,
            "offset": -32,
            "labelFlush": false,
            "labelAlign": "center",
            "labelPadding": 12,
            "labelFont": "Open Sans",
            "labelFontWeight": "bold",
            "labelFontSize": 11.5,
            "labelColor": "#595959"
          }
        },
        "y": {
          "field": "v",
          "type": "quantitative",
          "axis": {
            "values": [0, 0.5, 1, 1.5, 2, 2.5, 3, 3.5, 4, 4.5, 5, 5.5, 6, 6.5, 7, 7.5, 8, 8.5, 9, 9.5, 10, 10.5, 11, 11.5, 12, 12.5, 13, 13.5, 14, 14.5, 15, 15.5, 16],
            "labelExpr": "datum.value % 2 == 0 ? datum.label : ''",
            "grid": false,
            "offset": -33,
            "zindex": 1,
            "labelFlush": false,
            "domainColor": "#404040",
            "tickColor": "#404040",
            "tickSize": -3,
            "labelPadding": 19,
            "labelFont": "Open Sans",
            "labelFontWeight": "bold",
            "labelFontSize": 11,
            "labelColor": "#595959",
            "title": "Mkm²",
            "titleAngle": 0,
            "titleAlign": "left",
            "titleBaseline": "alphabetic",
            "titleX": -86,
            "titleY": 21.5,
            "titleFont": "Liberation Serif",
            "titleFontSize": 15,
            "titleFontWeight": "normal",
            "titleColor": "#000000"
          }
        },
        "detail": {"field": "s", "type": "nominal"},
        "color": {
          "field": "g",
          "type": "nominal",
          "scale": {"domain": ["n", "d", "m", "l", "x"], "range": ["#1f3a68", "#2e5597", "#4a78c8", "#9bb4e0", "#cfdbf1"]},
          "legend": null
        }
      }
    },
    {
      "data": {"values": [{"t": 2020, "v": 0.45}, {"t": 2100, "v": 0.45}]},
      "mark": {"type": "line", "color": "#ff0000", "strokeWidth": 6},
      "encoding": {
        "x": {"field": "t", "type": "quantitative"},
        "y": {"field": "v", "type": "quantitative"}
      }
    },
    {
      "data": {"values": [{"label": ["precautionary", "threshold"]}]},
      "mark": {"type": "text", "align": "left", "baseline": "alphabetic", "font": "Liberation Serif", "fontSize": 16, "lineHeight": 16, "color": "#ff0000"},
      "encoding": {
        "x": {"datum": 2016.5, "type": "quantitative"},
        "y": {"datum": 2.32, "type": "quantitative"},
        "text": {"field": "label"}
      }
    }
  ]
}
